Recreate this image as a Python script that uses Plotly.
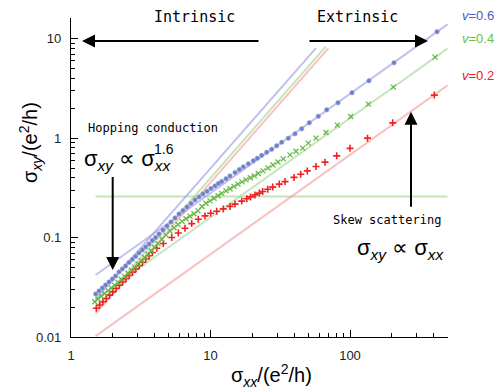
import plotly.graph_objects as go
import numpy as np

# ---------------- data ----------------
blue_x = [1.503, 1.587, 1.676, 1.770, 1.873, 1.978, 2.088, 2.208, 2.332, 2.463, 2.604, 2.750,
          2.905, 3.073, 3.245, 3.427, 3.624, 3.826, 4.043, 4.275, 4.566, 4.878, 5.211, 5.566,
          5.946, 6.352, 6.783, 7.248, 7.743, 8.272, 8.837, 9.438, 10.08, 10.77, 11.41, 12.03,
          12.91, 13.80, 14.99, 16.09, 17.19, 18.66, 20.27, 21.65, 23.28, 25.29, 27.46, 29.83,
          32.39, 36.13, 40.35, 45.06, 51.08, 59.28, 68.08, 82.0, 103.3, 136.8, 206.8, 420.5]
blue_y = [0.0271, 0.02904, 0.03114, 0.03340, 0.03580, 0.03838, 0.04115, 0.04514, 0.04838,
          0.05188, 0.05627, 0.06032, 0.06464, 0.07013, 0.07516, 0.08056, 0.08641, 0.09371,
          0.1005, 0.1090, 0.1196, 0.1312, 0.1439, 0.1579, 0.1733, 0.1879, 0.2038, 0.2211,
          0.2397, 0.2570, 0.2755, 0.2920, 0.3130, 0.3316, 0.3514, 0.3664, 0.3919, 0.4181,
          0.4534, 0.4838, 0.5152, 0.5524, 0.5920, 0.6273, 0.6727, 0.7211, 0.7731, 0.8386,
          0.9094, 1.002, 1.107, 1.243, 1.429, 1.662, 1.932, 2.273, 2.866, 3.785, 5.745, 11.79]

green_x = [1.479, 1.562, 1.649, 1.741, 1.842, 1.945, 2.054, 2.172, 2.294, 2.423, 2.562, 2.706,
           2.858, 3.022, 3.191, 3.370, 3.565, 3.764, 3.975, 4.205, 4.491, 4.797, 5.125, 5.475,
           5.848, 6.248, 6.673, 7.129, 7.615, 8.135, 8.691, 9.284, 9.918, 10.60, 11.32, 12.03,
           12.91, 13.80, 14.74, 15.74, 16.82, 17.97, 19.29, 20.61, 22.01, 23.79, 25.84, 28.05,
           30.47, 33.26, 37.15, 41.02, 45.81, 50.24, 57.06, 67.30, 81.1, 101.2, 135.3, 204.4, 406.7]
green_y = [0.02267, 0.02414, 0.02570, 0.02742, 0.02926, 0.03114, 0.03324, 0.03555, 0.03811,
           0.04076, 0.04380, 0.04694, 0.05045, 0.05433, 0.05854, 0.06304, 0.06790, 0.07346,
           0.07964, 0.08701, 0.09614, 0.1059, 0.1168, 0.1258, 0.1355, 0.1456, 0.1550, 0.1639,
           0.1741, 0.1857, 0.2057, 0.2221, 0.2342, 0.2487, 0.2642, 0.2787, 0.2953, 0.3108,
           0.3278, 0.3456, 0.3638, 0.3811, 0.4001, 0.4181, 0.4410, 0.4694, 0.5022, 0.5372,
           0.5757, 0.6200, 0.6805, 0.7398, 0.7949, 0.8927, 1.002, 1.141, 1.355, 1.654, 2.205,
           3.270, 6.556]

red_x = [1.518, 1.603, 1.693, 1.788, 1.888, 1.994, 2.105, 2.223, 2.348, 2.479, 2.617, 2.764,
         2.919, 3.083, 3.255, 3.438, 3.630, 3.833, 4.116, 4.587, 5.271, 5.880, 6.566, 7.333,
         8.176, 9.132, 10.03, 11.08, 12.35, 13.80, 14.99, 16.74, 18.18, 19.35, 20.84, 22.38,
         23.67, 25.70, 27.92, 31.13, 34.20, 39.68, 44.33, 49.42, 57.06, 66.20, 80.3, 100.0,
         133.5, 202.4, 402.1]
red_y = [0.01945, 0.02101, 0.02262, 0.02442, 0.02636, 0.02846, 0.03072, 0.03316, 0.03580,
         0.03856, 0.04162, 0.04493, 0.04849, 0.05236, 0.05653, 0.06102, 0.06573, 0.07094,
         0.07820, 0.08720, 0.1002, 0.1115, 0.1244, 0.1384, 0.1532, 0.1654, 0.1761, 0.1844,
         0.1945, 0.2061, 0.2175, 0.2331, 0.2464, 0.2570, 0.2692, 0.2806, 0.2912, 0.3064,
         0.3225, 0.3456, 0.3664, 0.4038, 0.4349, 0.4694, 0.5188, 0.5744, 0.6647, 0.7912,
         1.002, 1.429, 2.717]

# guide lines: sigma_xy = a * sigma_xx^p
series_names = ["v=0.6", "v=0.4", "v=0.2"]
skew_coef = [0.028, 0.016, 0.0068]        # p = 1 (skew scattering)
hop_coef = [0.0125, 0.0100, 0.0090]       # p = 1.6 (hopping)
hop_x_end = [57.0, 67.0, 70.0]
line_x_start = 1.5
line_x_end = 500.0
hop_exp = 1.6
plateau_y = 0.26

x_tick_vals = [1, 10, 100]
x_tick_text = ["1", "10", "100"]
y_tick_vals = [0.01, 0.1, 1, 10]
y_tick_text = ["0.01", "0.1", "1", "10"]

# ---------------- styles ----------------
marker_col = ["#6d7fc7", "#62b842", "#ee2222"]
line_col = ["rgba(150,150,225,0.6)", "rgba(160,210,140,0.6)", "rgba(245,150,150,0.6)"]
label_col = ["#4a5cc0", "#6cbf45", "#e82020"]

W, H = 499, 392
ML, MR, MT, MB = 71, 51, 18, 55
PW = W - ML - MR
PH = H - MT - MB


def px(xp):
    return (xp - ML) / PW


def py(yp):
    return (H - MB - yp) / PH


fig = go.Figure()

# horizontal plateau line
fig.add_trace(go.Scatter(x=[line_x_start, line_x_end], y=[plateau_y, plateau_y], mode="lines",
                         line=dict(color=line_col[1], width=2), showlegend=False, hoverinfo="skip"))

for i in range(3):
    xs = np.array([line_x_start, line_x_end])
    fig.add_trace(go.Scatter(x=xs, y=skew_coef[i] * xs, mode="lines",
                             line=dict(color=line_col[i], width=2), showlegend=False, hoverinfo="skip"))
    xh = np.array([line_x_start, hop_x_end[i]])
    fig.add_trace(go.Scatter(x=xh, y=hop_coef[i] * xh ** hop_exp, mode="lines",
                             line=dict(color=line_col[i], width=2), showlegend=False, hoverinfo="skip"))

fig.add_trace(go.Scatter(x=red_x, y=red_y, mode="markers", name=series_names[2],
                         marker=dict(symbol="cross-thin", size=5, line=dict(color=marker_col[2], width=1.6))))
fig.add_trace(go.Scatter(x=green_x, y=green_y, mode="markers", name=series_names[1],
                         marker=dict(symbol="x-thin", size=5, line=dict(color=marker_col[1], width=1.3))))
fig.add_trace(go.Scatter(x=blue_x, y=blue_y, mode="markers", name=series_names[0],
                         marker=dict(symbol="circle", size=4.5, color=marker_col[0],
                                     line=dict(color="#9aa8dc", width=0.6))))

axis_common = dict(type="log", showgrid=False, zeroline=False, showline=True, linecolor="black",
                   linewidth=1.3, ticks="inside", ticklen=7, tickcolor="black", tickwidth=1,
                   minor=dict(ticks="inside", ticklen=4, tickcolor="black", dtick="D1", showgrid=False),
                   tickfont=dict(family="Liberation Sans, Arial", size=13, color="#222"),
                   mirror=False, automargin=False)

fig.update_xaxes(range=[0, 2.7025], tickvals=x_tick_vals, ticktext=x_tick_text,
                 ticklabelstandoff=6, **axis_common)
fig.update_yaxes(range=[-2, 1.21], tickvals=y_tick_vals, ticktext=y_tick_text,
                 ticklabelstandoff=6, **axis_common)

mono = "DejaVu Sans Mono"
sans = "Liberation Sans, Arial"
ann = []
# region labels
ann.append(dict(text="Intrinsic", x=px(194), y=py(17), font=dict(family=mono, size=15, color="black")))
ann.append(dict(text="Extrinsic", x=px(357), y=py(17), font=dict(family=mono, size=15, color="black")))
ann.append(dict(text="Hopping conduction", x=px(153), y=py(128), font=dict(family=mono, size=12, color="black")))
ann.append(dict(text="Skew scattering", x=px(387), y=py(220), font=dict(family=mono, size=12, color="black")))
# formulas
ann.append(dict(text="σ<sub><i>xy</i></sub> ∝ σ<sub><i>xx</i></sub>", x=px(82), y=py(160),
                xanchor="left", font=dict(family=sans, size=22, color="black")))
ann.append(dict(text="1.6", x=px(164), y=py(149),
                font=dict(family=sans, size=14, color="black")))
ann.append(dict(text="σ<sub><i>xy</i></sub> ∝ σ<sub><i>xx</i></sub>", x=px(400), y=py(249),
                font=dict(family=sans, size=22, color="black")))
# series labels
for lab, yy, c in zip(series_names, [15, 38, 75], label_col):
    ann.append(dict(text="<i>v</i>" + lab[1:], x=px(478), y=py(yy), font=dict(family=sans, size=13, color=c)))
# axis titles
ann.append(dict(text="σ<sub><i>xx</i></sub>/(e<sup>2</sup>/h)", x=px(271), y=py(375),
                font=dict(family=sans, size=20, color="black")))
ann.append(dict(text="σ<sub><i>xy</i></sub>/(e<sup>2</sup>/h)", x=px(30), y=py(143), textangle=-90,
                font=dict(family=sans, size=20, color="black")))
for a in ann:
    a.update(xref="paper", yref="paper", showarrow=False)
    a.setdefault("xanchor", "center")
    a.setdefault("yanchor", "middle")

# arrows (head position in paper coords, tail offset in px)
arrows = [
    dict(x=px(82), y=py(41), ax=178, ay=0),
    dict(x=px(428), y=py(41), ax=-120, ay=0),
    dict(x=px(112.7), y=py(270), ax=0, ay=-95),
    dict(x=px(411), y=py(111.7), ax=0, ay=97),
]
for a in arrows:
    a.update(xref="paper", yref="paper", showarrow=True, arrowhead=2, arrowsize=1.3,
             arrowwidth=2, arrowcolor="black", text=" ", font=dict(size=1))
    ann.append(a)

fig.update_layout(width=W, height=H, margin=dict(l=ML, r=MR, t=MT, b=MB),
                  paper_bgcolor="white", plot_bgcolor="white", showlegend=False,
                  annotations=ann)

fig.write_html("out.html", config={"displayModeBar": False},
               post_script="document.body.style.margin='0';document.body.style.overflow='hidden';")
